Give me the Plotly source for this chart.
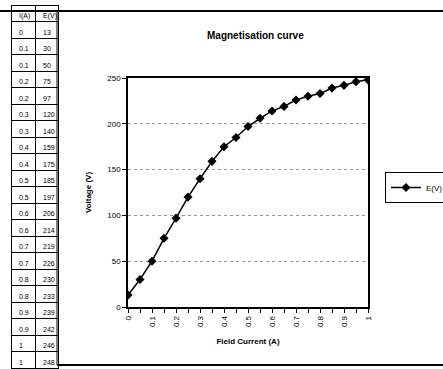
import plotly.graph_objects as go
from decimal import Decimal, ROUND_HALF_UP

# ---- data ----
field_current = [0, 0.05, 0.1, 0.15, 0.2, 0.25, 0.3, 0.35, 0.4, 0.45, 0.5,
                 0.55, 0.6, 0.65, 0.7, 0.75, 0.8, 0.85, 0.9, 0.95, 1.0]
voltage = [13, 30, 50, 75, 97, 120, 140, 159, 175, 185, 197,
           206, 214, 219, 226, 230, 233, 239, 242, 246, 248]
x_tick_vals = [0, 0.1, 0.2, 0.3, 0.4, 0.5, 0.6, 0.7, 0.8, 0.9, 1.0]
x_tick_text = ["0", "0.1", "0.2", "0.3", "0.4", "0.5", "0.6", "0.7", "0.8", "0.9", "1"]
y_tick_vals = [0, 50, 100, 150, 200, 250]
table_header = ["I(A)", "E(V)"]
series_name = "E(V)"
title_text = "Magnetisation curve"
x_title = "Field Current (A)"
y_title = "Voltage (V)"


def excel_fmt(v):
    d = Decimal(str(v)).quantize(Decimal("0.1"), rounding=ROUND_HALF_UP)
    s = format(d, "f")
    if s.endswith(".0"):
        s = s[:-2]
    return s


W, H = 443, 369
FONT = "Liberation Sans, Arial, sans-serif"

fig = go.Figure()

# data table on the left
fig.add_trace(go.Table(
    domain=dict(x=[11 / W, 58 / W], y=[0, 1 - 5 / H]),
    columnwidth=[24, 23],
    header=dict(values=table_header, height=16.5, align="left",
                line=dict(color="black", width=1), fill=dict(color="white"),
                font=dict(family=FONT, size=7, color="black")),
    cells=dict(values=[[excel_fmt(v) for v in field_current], [str(v) for v in voltage]],
               height=16.5, align="left",
               line=dict(color="black", width=1), fill=dict(color="white"),
               font=dict(family=FONT, size=7, color="black")),
))

# the curve
fig.add_trace(go.Scatter(
    x=field_current, y=voltage, mode="lines+markers", name=series_name,
    line=dict(color="black", width=1.5),
    marker=dict(symbol="diamond", size=7, color="black"),
))

fig.update_layout(
    width=W, height=H,
    margin=dict(l=0, r=0, t=0, b=0, autoexpand=False),
    paper_bgcolor="white", plot_bgcolor="white",
    font=dict(family=FONT, color="black", size=8),
    showlegend=True,
    legend=dict(x=385 / W, y=1 - 172 / H, xanchor="left", yanchor="top",
                bordercolor="black", borderwidth=1, bgcolor="white",
                font=dict(size=8, family=FONT), itemwidth=30,
                tracegroupgap=0),
    xaxis=dict(domain=[128 / W, 368 / W], range=[0, 1],
               tickvals=x_tick_vals, ticktext=x_tick_text, tickangle=-90,
               ticks="outside", ticklen=4, tickcolor="black",
               minor=dict(dtick=0.05, tick0=0, ticks="outside", ticklen=4, tickcolor="black"),
               showline=True, linecolor="black", linewidth=1.5, mirror=True,
               showgrid=False, zeroline=False,
               tickfont=dict(size=8, family=FONT),
               title=dict(text="<b>" + x_title + "</b>", font=dict(size=8, family=FONT), standoff=12)),
    yaxis=dict(domain=[(H - 307) / H, (H - 78) / H], range=[0, 250],
               tickvals=y_tick_vals, ticks="outside", ticklen=4, tickcolor="black",
               showline=True, linecolor="black", linewidth=1.5, mirror=True,
               showgrid=True, gridcolor="#999999", griddash="dot", gridwidth=1,
               zeroline=False,
               tickfont=dict(size=8, family=FONT),
               title=dict(text="<b>" + y_title + "</b>", font=dict(size=8, family=FONT), standoff=14)),
    annotations=[dict(text="<b>" + title_text + "</b>", x=255 / W, y=1 - 36 / H,
                      xref="paper", yref="paper", xanchor="center", yanchor="middle",
                      showarrow=False,
                      font=dict(size=10, family=FONT, color="black"))],
    shapes=[
        dict(type="line", xref="paper", yref="paper", x0=0, x1=1, y0=1 - 11 / H, y1=1 - 11 / H,
             line=dict(color="black", width=2)),
        dict(type="line", xref="paper", yref="paper", x0=57 / W, x1=1, y0=1 - 365 / H, y1=1 - 365 / H,
             line=dict(color="black", width=2)),
        dict(type="line", xref="paper", yref="paper", x0=57 / W, x1=57 / W, y0=1 - 365 / H, y1=1 - 11 / H,
             line=dict(color="black", width=1)),
    ],
)

fig.write_html("out.html")
